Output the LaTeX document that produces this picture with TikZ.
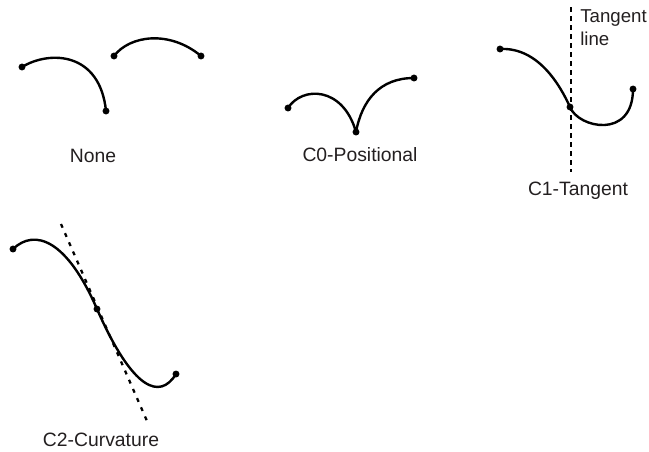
\documentclass[tikz,border=0pt]{standalone}
\usepackage{fontspec}
\setmainfont{Liberation Sans}
\definecolor{txt}{HTML}{231F20}
\begin{document}
\begin{tikzpicture}[x=0.75pt,y=-0.75pt,
  pt/.style={circle,fill=black,inner sep=0pt,minimum size=5.2pt},
  crv/.style={line width=1.8pt,black},
  tline/.style={line width=1.9pt,black,dash pattern=on 3.75pt off 3pt},
  tline2/.style={line width=1.7pt,black,dash pattern=on 3pt off 4.5pt},
  lbl/.style={text=txt,font=\fontsize{14.5}{17.25}\selectfont,inner sep=0pt}]
\useasboundingbox (0,0) rectangle (649,451);
% None
\node[pt] (a1) at (22,67) {};
\node[pt] (a2) at (106,111) {};
\node[pt] (b1) at (114,56) {};
\node[pt] (b2) at (201,56) {};
\draw[crv] (a1.center) .. controls (50,50) and (100,52) .. (a2.center);
\draw[crv] (b1.center) .. controls (130,35) and (170,30) .. (b2.center);
\node[lbl] (lnone) at (93,156) {None};
% C0
\node[pt] (c1) at (288,108) {};
\node[pt] (c2) at (356,132) {};
\node[pt] (c3) at (414,78) {};
\draw[crv] (c1.center) .. controls (302,86) and (343,86) .. (c2.center);
\draw[crv] (c2.center) .. controls (362,100) and (380,78) .. (c3.center);
\node[lbl] (lc0) at (360,155) {C0-Positional};
% C1
\coordinate (t1) at (571,7);
\coordinate (t2) at (571,172);
\draw[tline] (t1) -- (t2);
\node[pt] (d1) at (500,49) {};
\node[pt] (d2) at (570,107) {};
\node[pt] (d3) at (633,89) {};
\draw[crv] (d1.center) .. controls (538,47) and (560,85) .. (d2.center);
\draw[crv] (d2.center) .. controls (578,128) and (633,140) .. (d3.center);
\node[lbl,font=\fontsize{14}{17.25}\selectfont,anchor=west,align=left] (ltan) at (580,27.5) {Tangent\\line};
\node[lbl] (lc1) at (578,191) {C1-Tangent};
% C2
\coordinate (s1) at (61,224);
\coordinate (s2) at (147,421);
\draw[tline2] (s1) -- (s2);
\node[pt] (e1) at (13,249) {};
\node[pt] (e2) at (97,309) {};
\node[pt] (e3) at (176,374) {};
\draw[crv] (e1.center) .. controls (35,228) and (67,240) .. (e2.center);
\draw[crv] (e2.center) .. controls (133,391) and (160,400) .. (e3.center);
\node[lbl] (lc2) at (101,440) {C2-Curvature};
\end{tikzpicture}
\end{document}
